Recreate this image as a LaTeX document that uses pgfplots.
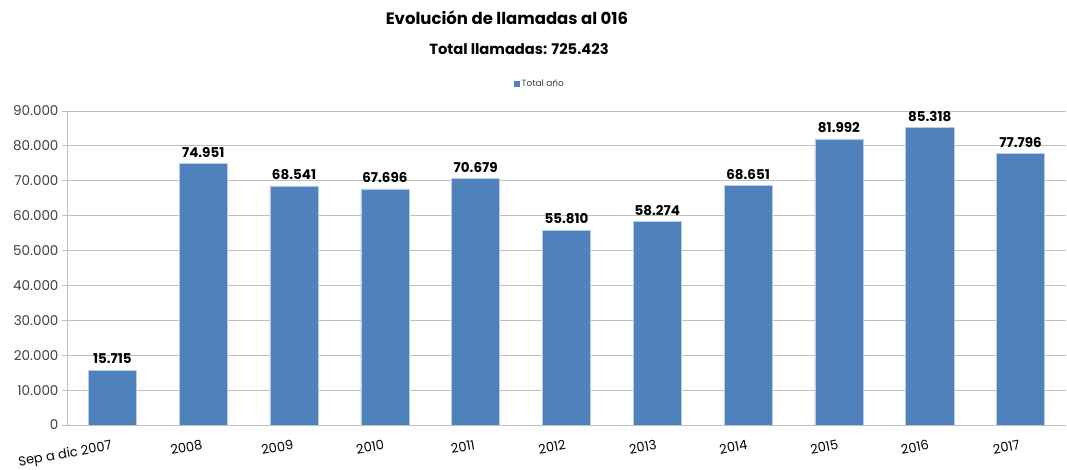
\documentclass[border=0pt]{standalone}
\usepackage{pgfplots}
\pgfplotsset{compat=1.18}
\usepackage{fontspec}
\setmainfont{Poppins}
\definecolor{barblue}{HTML}{4F81BD}
\definecolor{bardge}{HTML}{B9CDE5}
\definecolor{gridgray}{HTML}{BFBFBF}
\definecolor{txtgray}{HTML}{404040}
\begin{document}
\begin{tikzpicture}[x=1pt,y=1pt]
\path[use as bounding box] (0,0) rectangle (1067,470);
\node[font=\fontsize{16.5}{19}\selectfont\bfseries] at (507,452) {Evolución de llamadas al 016};
\node[font=\fontsize{14.7}{17}\selectfont\bfseries] at (519,421) {Total llamadas: 725.423};
\begin{axis}[
  at={(67pt,45pt)}, anchor=south west,
  scale only axis, width=999pt, height=314pt,
  xmin=-0.5, xmax=10.5, ymin=0, ymax=90000,
  axis x line=bottom, axis y line=left,
  axis line style={gridgray, -},
  ymajorgrids, grid style={gridgray, line width=0.8pt},
  ytick={0,10000,...,90000},
  scaled y ticks=false,
  yticklabel={\pgfmathprintnumber[fixed,precision=0,1000 sep={.}]{\tick}},
  tick align=outside,
  major tick length=5pt,
  ytick style={gridgray, line width=0.8pt},
  xtick={0,...,10},
  xticklabels={Sep a dic 2007,2008,2009,2010,2011,2012,2013,2014,2015,2016,2017},
  xtick style={draw=none},
  minor xtick={0.5,1.5,...,9.5},
  minor tick length=5pt,
  minor x tick style={gridgray, line width=0.8pt},
  xticklabel style={rotate=10, anchor=north east, font=\fontsize{13}{15}\selectfont, text=black, yshift=-6pt},
  yticklabel style={font=\fontsize{13.5}{16}\selectfont, text=txtgray},
  /pgf/number format/assume math mode=true,
  /pgf/number format/1000 sep={.},
  ybar, bar width=0.53,
  nodes near coords,
  every node near coord/.append style={font=\fontsize{13.5}{16}\selectfont\bfseries, text=black, yshift=2.5pt},
  legend style={at={(0.4735,1.086)}, anchor=center, draw=none, font=\fontsize{9}{10}\selectfont, text=txtgray, inner sep=0pt},
  legend image code/.code={\fill[barblue] (0pt,-2.5pt) rectangle (5pt,2.5pt);},
]
\addplot[fill=barblue, draw=bardge, line width=0.6pt] coordinates {
(0,15715) (1,74951) (2,68541) (3,67696) (4,70679) (5,55810) (6,58274) (7,68651) (8,81992) (9,85318) (10,77796)};
\addlegendentry{Total año}
\end{axis}
\end{tikzpicture}
\end{document}
